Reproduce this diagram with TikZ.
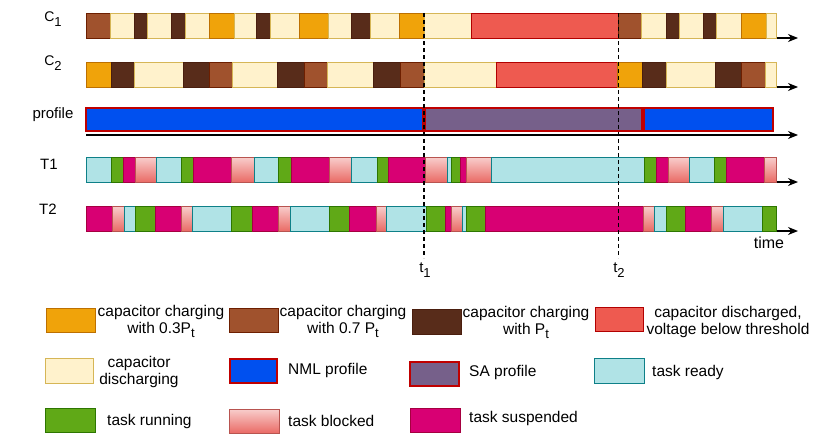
\documentclass[tikz,border=0pt]{standalone}
\usepackage{fontspec}
\setmainfont{Liberation Sans}
\usetikzlibrary{arrows.meta}
\definecolor{orF}{HTML}{F0A30A}\definecolor{orD}{HTML}{BD7000}
\definecolor{brF}{HTML}{A0522D}\definecolor{brD}{HTML}{6D1F00}
\definecolor{dkF}{HTML}{582C1A}\definecolor{dkD}{HTML}{4A1E0E}
\definecolor{crF}{HTML}{FFF2CC}\definecolor{crD}{HTML}{D6B656}
\definecolor{rdF}{HTML}{EE5A50}\definecolor{rdD}{HTML}{B20000}
\definecolor{blF}{HTML}{0050EF}\definecolor{prD}{HTML}{C00000}
\definecolor{puF}{HTML}{76608A}
\definecolor{reF}{HTML}{B0E3E6}\definecolor{reD}{HTML}{0E8088}
\definecolor{ruF}{HTML}{60A917}\definecolor{ruD}{HTML}{2D7600}
\definecolor{bkT}{HTML}{F8CECC}\definecolor{bkB}{HTML}{EA6B66}\definecolor{bkD}{HTML}{B85450}
\definecolor{suF}{HTML}{D80073}\definecolor{suD}{HTML}{A50040}
\begin{document}
\begin{tikzpicture}[x=1pt,y=-1pt,
  seg/.style={line width=1pt},
  co/.style={seg,fill=orF,draw=orD},
  cb/.style={seg,fill=brF,draw=brD},
  cd/.style={seg,fill=dkF,draw=dkD},
  cc/.style={seg,fill=crF,draw=crD},
  cr/.style={seg,fill=rdF,draw=rdD},
  nml/.style={line width=2.2pt,fill=blF,draw=prD},
  sap/.style={line width=2.2pt,fill=puF,draw=prD},
  tr/.style={seg,fill=reF,draw=reD},
  tu/.style={seg,fill=ruF,draw=ruD},
  tb/.style={seg,top color=bkT,bottom color=bkB,draw=bkD},
  ts/.style={seg,fill=suF,draw=suD},
  axis/.style={line width=1.3pt,-{Stealth[length=10pt,width=8pt]}},
  tline/.style={dashed,line width=1.2pt,dash pattern=on 4pt off 3pt},
  lab/.style={font=\fontsize{15}{17}\selectfont,inner sep=0pt},
  leg/.style={font=\fontsize{15.5}{17}\selectfont,inner sep=0pt,align=center},
  legw/.style={leg,anchor=west}]
\useasboundingbox[fill=white] (0,0) rectangle (822,442);

% axes
\foreach \yy/\nm in {38/a1,87/a2,135/a3,182/a4,231/a5}{
  \coordinate (\nm s) at (86,\yy);
  \coordinate (\nm e) at (798,\yy);
  \draw[axis] (\nm s) -- (\nm e);
}

% C1
\foreach \a/\b/\s in {86/110/cb,110/134.3/cc,134.3/147.7/cd,147.7/171.7/cc,171.7/185/cd,185/209.3/cc,209.3/234.3/co,234.3/256/cc,256/270/cd,270/299.3/cc,299.3/328.3/co,328.3/351.7/cc,351.7/370/cd,370/399.3/cc,399.3/424/co,424/471.3/cc,471.3/618.3/cr,618.3/641.7/cb,641.7/666/cc,666/679/cd,679/703.3/cc,703.3/716.7/cd,716.7/741/cc,741/766/co,766/776/cc}
  \draw[\s] (\a,13) rectangle (\b,38);
% C2
\foreach \a/\b/\s in {86/111/co,111/134.3/cd,134.3/183.3/cc,183.3/209.3/cd,209.3/232.3/cb,232.3/277.3/cc,277.3/304.3/cd,304.3/327.7/cb,327.7/373.3/cc,373.3/400/cd,400/424/cb,424/496.7/cc,496.7/617.7/cr,617.7/642.7/co,642.7/666/cd,666/715/cc,715/741.7/cd,741.7/765/cb,765/776/cc}
  \draw[\s] (\a,62) rectangle (\b,87);
% profile
\draw[nml] (86,108) rectangle (423,131);
\draw[sap] (424.5,108) rectangle (642,131);
\draw[nml] (643.5,108) rectangle (773,131);
% T1
\foreach \a/\b/\s in {86/111/tr,111/123.3/tu,123.3/135/ts,135/156/tb,156/181/tr,181/193.3/tu,193.3/231/ts,231/254.3/tb,254.3/278.3/tr,278.3/291/tu,291/329.3/ts,329.3/351.7/tb,351.7/377.3/tr,377.3/388.3/tu,388.3/425.7/ts,425.7/447.7/tb,447.7/451.7/tr,451.7/460.7/tu,460.7/466.7/ts,466.7/491.7/tb,491.7/644.3/tr,644.3/656/tu,656/668.3/ts,668.3/689.3/tb,689.3/714/tr,714/726/tu,726/764.3/ts,764.3/776/tb}
  \draw[\s] (\a,157) rectangle (\b,182);
% T2
\foreach \a/\b/\s in {86/112.7/ts,112.7/124/tb,124/135/tr,135/155/tu,155/181/ts,181/192.3/tb,192.3/231.7/tr,231.7/252.3/tu,252.3/278.3/ts,278.3/290/tb,290/329.3/tr,329.3/349/tu,349/376/ts,376/386.7/tb,386.7/426/tr,426/445.7/tu,445.7/451.7/ts,451.7/462.3/tb,462.3/466.7/tr,466.7/485/tu,485/643.3/ts,643.3/654.3/tb,654.3/666/tr,666/685.7/tu,685.7/711.7/ts,711.7/723.3/tb,723.3/762.3/tr,762.3/776/tu}
  \draw[\s] (\a,206) rectangle (\b,231);

% time markers
\coordinate (t1top) at (424,13); \coordinate (t1bot) at (424,258);
\coordinate (t2top) at (618.5,13); \coordinate (t2bot) at (618.5,258);
\draw[tline] (t1top) -- (t1bot);
\draw[tline] (t2top) -- (t2bot);
\node[lab,anchor=north] (t1) at (425,263) {t\raisebox{-5pt}{\fontsize{13}{13}\selectfont 1}};
\node[lab,anchor=north] (t2) at (619,263) {t\raisebox{-5pt}{\fontsize{13}{13}\selectfont 2}};
\node[lab,font=\fontsize{16}{16}\selectfont] (time) at (769,243) {time};

% row labels
\node[lab,font=\fontsize{14}{14}\selectfont] (c1) at (53,19) {C\raisebox{-5pt}{\fontsize{13}{13}\selectfont 1}};
\node[lab,font=\fontsize{14}{14}\selectfont] (c2) at (53,63) {C\raisebox{-5pt}{\fontsize{13}{13}\selectfont 2}};
\node[lab] (prof) at (53,115) {profile};
\node[lab] (lt1) at (49,164) {T1};
\node[lab] (lt2) at (48,209) {T2};

% legend row 1
\draw[co] (46,308) rectangle (95,332);
\node[leg] (l1) at (161,321) {capacitor charging\\with 0.3P\raisebox{-4pt}{\fontsize{13}{13}\selectfont t}};
\draw[cb] (229,308) rectangle (278,332);
\node[leg] (l2) at (343,321) {capacitor charging\\with 0.7 P\raisebox{-4pt}{\fontsize{13}{13}\selectfont t}};
\draw[cd] (412,309) rectangle (461,334);
\node[leg] (l3) at (526,322) {capacitor charging\\with P\raisebox{-4pt}{\fontsize{13}{13}\selectfont t}};
\draw[cr] (595,307) rectangle (643,331);
\node[leg] (l4) at (728,322) {capacitor discharged,\\voltage below threshold};
% legend row 2
\draw[cc] (45,358) rectangle (93,383);
\node[leg] (l5) at (139,372) {capacitor\\discharging};
\draw[nml] (230,359) rectangle (277,383);
\node[legw] (l6) at (288,370) {NML profile};
\draw[sap] (410,362) rectangle (459,386);
\node[legw] (l7) at (469,372) {SA profile};
\draw[tr] (594,358) rectangle (644,383);
\node[legw] (l8) at (652,372) {task ready};
% legend row 3
\draw[tu] (45,408) rectangle (95,432);
\node[legw] (l9) at (107,421) {task running};
\draw[tb] (229,409) rectangle (279,433);
\node[legw] (l10) at (288,421) {task blocked};
\draw[ts] (410,408) rectangle (460,432);
\node[legw] (l11) at (469,418) {task suspended};
\end{tikzpicture}
\end{document}
